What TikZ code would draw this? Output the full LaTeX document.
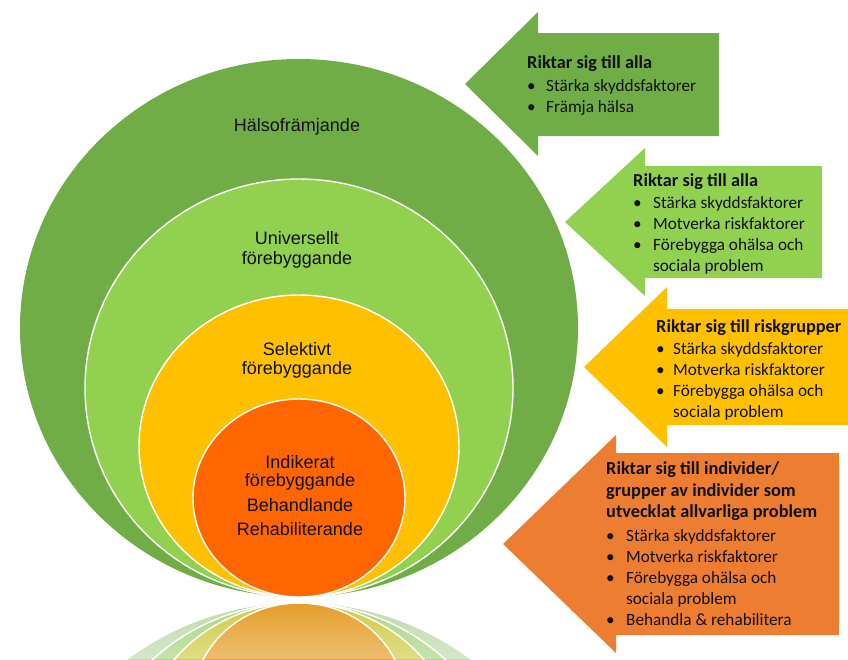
\documentclass[tikz,border=0pt]{standalone}
\usepackage{fontspec}
\setmainfont{Carlito}
\newfontfamily\arialfont{Liberation Sans}
\usetikzlibrary{fadings}
\definecolor{dgreen}{HTML}{70AD47}
\definecolor{lgreen}{HTML}{92D050}
\definecolor{gold}{HTML}{FFC000}
\definecolor{orangec}{HTML}{FF6600}
\definecolor{orangea}{HTML}{ED7D31}
\definecolor{txt}{HTML}{111111}
\tikzfading[name=fadedown, top color=transparent!100, bottom color=transparent!0]
\tikzset{
  ring/.style={draw=white, line width=1.4pt},
  ctext/.style={font=\arialfont\fontsize{18}{20}\selectfont, text=txt, align=center, inner sep=0pt},
  atext/.style={font=\fontsize{17.2}{21}\selectfont, text=txt, anchor=base west, inner sep=0pt},
}
\newcommand{\bl}{\textbullet}
\newcommand{\ttl}[1]{\multicolumn{2}{@{}l@{}}{\fontsize{18.3}{21}\selectfont\bfseries #1}}
\begin{document}
\begin{tikzpicture}[x=1pt,y=-1pt]
\useasboundingbox (0,0) rectangle (848,659);
% reflection
\begin{scope}
\clip (0,600) rectangle (848,659);
\begin{scope}[fill opacity=0.45]
\fill[dgreen] (299,872) ellipse [x radius=279, y radius=269];
\fill[lgreen] (299,812) ellipse [x radius=214, y radius=209];
\fill[gold] (299,754) ellipse [x radius=160, y radius=151];
\fill[orangec] (299,702) ellipse [x radius=106, y radius=99];
\end{scope}
\draw[ring] (299,812) ellipse [x radius=214, y radius=209];
\draw[ring] (299,754) ellipse [x radius=160, y radius=151];
\draw[ring] (299,702) ellipse [x radius=106, y radius=99];
\fill[white, path fading=fadedown, fill opacity=0.35] (0,600) rectangle (848,659);
\end{scope}
% main circles
\fill[dgreen] (299,328) ellipse [x radius=279, y radius=269];
\fill[lgreen, ring] (299,388) ellipse [x radius=214, y radius=209];
\fill[gold, ring] (299,446) ellipse [x radius=160, y radius=151];
\fill[orangec, ring] (299,498) ellipse [x radius=106, y radius=99];
\node[ctext] (c1) at (297,127) {Hälsofrämjande};
\node[ctext] (c2) at (297,250) {Universellt\\förebyggande};
\node[ctext, font=\arialfont\fontsize{18}{18}\selectfont] (c4) at (300,495.5) {Indikerat\\förebyggande\\[6.5pt]Behandlande\\[6pt]Rehabiliterande};
\node[ctext, font=\arialfont\fontsize{18}{19}\selectfont] (c3) at (297,360.5) {Selektivt\\förebyggande};
% arrows
\fill[dgreen] (465,84) -- (538,12) -- (538,33) -- (719,33) -- (719,136) -- (538,136) -- (538,156) -- cycle;
\fill[lgreen] (565,222) -- (645,148) -- (645,166) -- (822,166) -- (822,278) -- (645,278) -- (645,296) -- cycle;
\fill[gold] (584,367) -- (667,287) -- (667,309) -- (850,309) -- (850,425) -- (667,425) -- (667,447) -- cycle;
\fill[orangea] (503,544) -- (616,435) -- (616,453) -- (839,453) -- (839,635) -- (616,635) -- (616,653) -- cycle;
% arrow texts
\node[atext] (t1) at (527,68.5) {\begin{tabular}[t]{@{}p{19pt}@{}l@{}}
\ttl{Riktar sig till alla}\\[1.5pt]
\bl & Stärka skyddsfaktorer\\
\bl & Främja hälsa
\end{tabular}};
\node[atext] (t2) at (633,186.5) {\begin{tabular}[t]{@{}p{20pt}@{}l@{}}
\ttl{Riktar sig till alla}\\[1pt]
\bl & Stärka skyddsfaktorer\\
\bl & Motverka riskfaktorer\\
\bl & Förebygga ohälsa och\\
 & sociala problem
\end{tabular}};
\node[atext] (t3) at (656,332.5) {\begin{tabular}[t]{@{}p{17pt}@{}l@{}}
\ttl{Riktar sig till riskgrupper}\\[1pt]
\bl & Stärka skyddsfaktorer\\
\bl & Motverka riskfaktorer\\
\bl & Förebygga ohälsa och\\
 & sociala problem
\end{tabular}};
\node[atext] (t4) at (606,474.5) {\begin{tabular}[t]{@{}p{20pt}@{}l@{}}
\ttl{Riktar sig till individer/}\\[1pt]
\ttl{grupper av individer som}\\[0pt]
\ttl{utvecklat allvarliga problem}\\[2.5pt]
\bl & Stärka skyddsfaktorer\\
\bl & Motverka riskfaktorer\\
\bl & Förebygga ohälsa och\\
 & sociala problem\\
\bl & Behandla \& rehabilitera
\end{tabular}};
\end{tikzpicture}
\end{document}
